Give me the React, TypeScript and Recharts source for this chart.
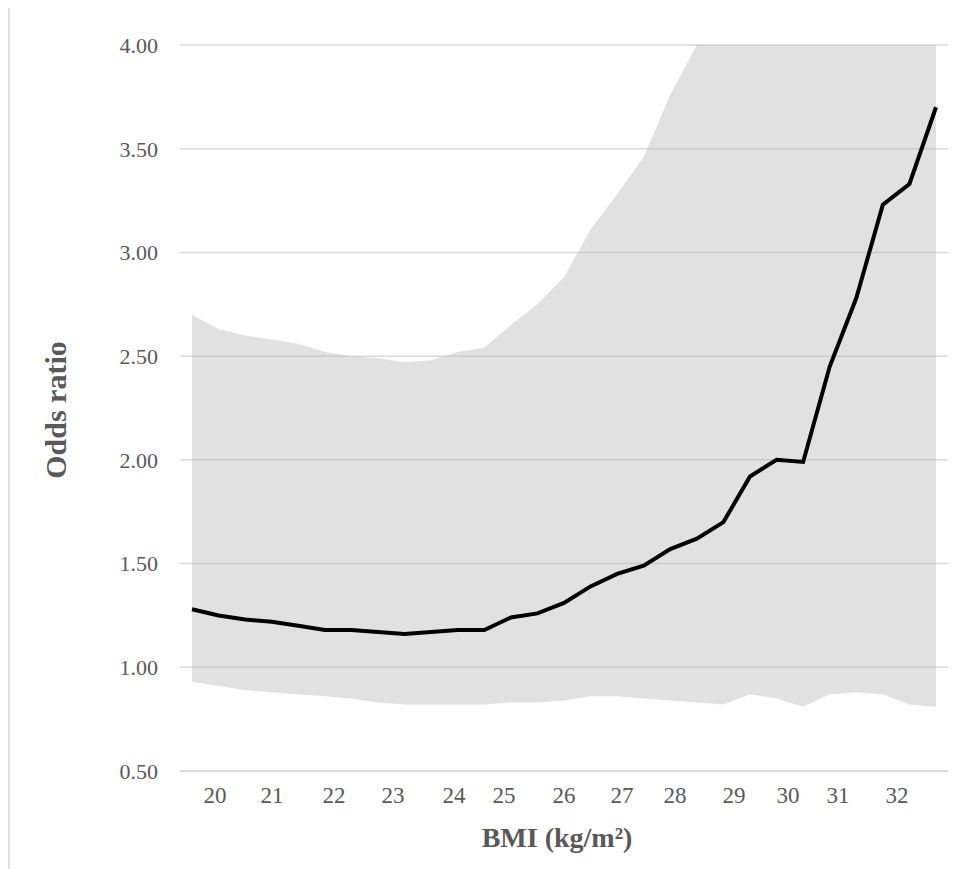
import {
  ComposedChart,
  Area,
  Line,
  XAxis,
  YAxis,
  CartesianGrid,
  Label,
} from "recharts";

// BMI tick labels and where they sit along the point index (0..28)
const bmiTickLabels = ["20", "21", "22", "23", "24", "25", "26", "27", "28", "29", "30", "31", "32"];
const bmiTickAt = [0.87, 3.01, 5.34, 7.56, 9.86, 11.74, 14.0, 16.18, 18.18, 20.4, 22.43, 24.31, 26.53];

const oddsTicks = [0.5, 1.0, 1.5, 2.0, 2.5, 3.0, 3.5, 4.0];

// odds ratio curve
const oddsRatio = [
  1.28, 1.25, 1.23, 1.22, 1.2, 1.18, 1.18, 1.17, 1.16, 1.17,
  1.18, 1.18, 1.24, 1.26, 1.31, 1.39, 1.45, 1.49, 1.57, 1.62,
  1.7, 1.92, 2.0, 1.99, 2.45, 2.78, 3.23, 3.33, 3.7,
];

// 95% CI band (upper is cut at the top of the axis)
const ciLower = [
  0.93, 0.91, 0.89, 0.88, 0.87, 0.86, 0.85, 0.83, 0.82, 0.82,
  0.82, 0.82, 0.83, 0.83, 0.84, 0.86, 0.86, 0.85, 0.84, 0.83,
  0.82, 0.87, 0.85, 0.81, 0.87, 0.88, 0.87, 0.82, 0.81,
];
const ciUpper = [
  2.7, 2.63, 2.6, 2.58, 2.56, 2.52, 2.5, 2.49, 2.47, 2.48,
  2.52, 2.54, 2.65, 2.75, 2.88, 3.11, 3.28, 3.46, 3.76, 4.0,
  4.0, 4.0, 4.0, 4.0, 4.0, 4.0, 4.0, 4.0, 4.0,
];

const data = oddsRatio.map((or, i) => ({
  pos: i,
  or,
  band: [ciLower[i], ciUpper[i]],
}));

const FONT = '"Liberation Serif", "Times New Roman", serif';
const GREY = "#595959";
const GRID = "#d9d9d9";

export default function App() {
  return (
    <div style={{ position: "relative", width: 963, height: 861 }}>
      <div
        style={{
          position: "absolute",
          left: 0,
          top: -2,
          right: 0,
          bottom: 0,
          borderLeft: "2px solid #dcdcdc",
          borderTop: "2px solid #dcdcdc",
        }}
      />
      <div style={{ position: "absolute", left: 0, top: 0 }}>
        <ComposedChart
          width={963}
          height={861}
          data={data}
          margin={{ top: 37, right: 23, left: 0, bottom: 0 }}
        >
          <CartesianGrid vertical={false} stroke={GRID} strokeWidth={1.5} />
          <XAxis
            type="number"
            dataKey="pos"
            domain={[0, 28]}
            ticks={bmiTickAt}
            interval={0}
            tickFormatter={(v: number) => bmiTickLabels[bmiTickAt.indexOf(v)] ?? ""}
            padding={{ left: 12, right: 12 }}
            height={98}
            tickLine={false}
            tickMargin={10}
            axisLine={{ stroke: GRID, strokeWidth: 1.5 }}
            tick={{ fontFamily: FONT, fontSize: 23, fill: GREY }}
          >
            <Label
              content={({ viewBox }: any) => (
                <text
                  x={viewBox.x + viewBox.width / 2 - 7}
                  y={viewBox.y + 76}
                  textAnchor="middle"
                  fontFamily={FONT}
                  fontSize={28}
                  fontWeight="bold"
                  fill={GREY}
                >
                  BMI (kg/m²)
                </text>
              )}
            />
          </XAxis>
          <YAxis
            type="number"
            domain={[0.5, 4]}
            ticks={oddsTicks}
            width={172}
            axisLine={false}
            tickLine={false}
            tickMargin={16}
            tickFormatter={(v: number) => v.toFixed(2)}
            tick={{ fontFamily: FONT, fontSize: 22, fill: GREY }}
          >
            <Label
              content={({ viewBox }: any) => {
                const cx = 47;
                const cy = viewBox.y + viewBox.height / 2 + 2;
                return (
                  <text
                    x={cx}
                    y={cy}
                    transform={`rotate(-90 ${cx} ${cy})`}
                    textAnchor="middle"
                    dominantBaseline="central"
                    fontFamily={FONT}
                    fontSize={30}
                    fontWeight="bold"
                    fill={GREY}
                  >
                    Odds ratio
                  </text>
                );
              }}
            />
          </YAxis>
          <Area
            type="linear"
            dataKey="band"
            stroke="none"
            fill="#bcbcbc"
            fillOpacity={0.45}
            isAnimationActive={false}
          />
          <Line
            type="linear"
            dataKey="or"
            stroke="#000000"
            strokeWidth={4}
            dot={false}
            isAnimationActive={false}
          />
        </ComposedChart>
      </div>
    </div>
  );
}
